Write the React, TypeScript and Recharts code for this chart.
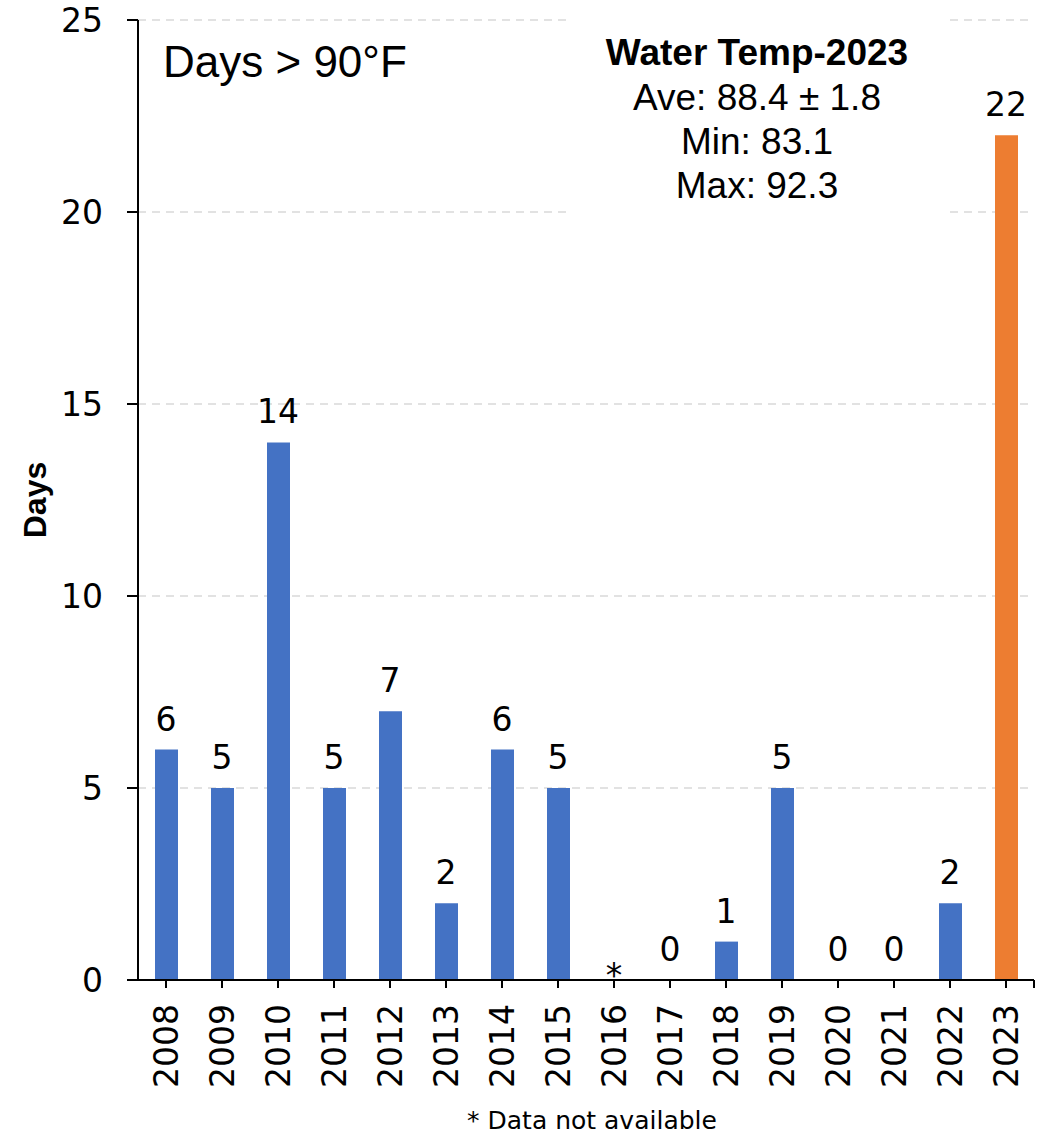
import { Bar, CartesianGrid, Cell, ComposedChart, Customized, Label, LabelList, Line, XAxis, YAxis } from "recharts"

const years = ["2008", "2009", "2010", "2011", "2012", "2013", "2014", "2015", "2016", "2017", "2018", "2019", "2020", "2021", "2022", "2023"]
// null = data not available (2016)
const daysOver90 = [6, 5, 14, 5, 7, 2, 6, 5, null, 0, 1, 5, 0, 0, 2, 22]
const yTicks = [0, 5, 10, 15, 20, 25]
const highlightYear = "2023"

const chartTitle = "Days > 90°F"
const statsTitle = "Water Temp-2023"
const statsLines = ["Ave: 88.4 ± 1.8", "Min: 83.1", "Max: 92.3"]
const footnote = "* Data not available"

const numFont = "DejaVu Sans"
const textFont = "Liberation Sans, Arial, sans-serif"

const data = years.map((year, i) => ({
  year,
  days: daysOver90[i] ?? 0,
  label: daysOver90[i] == null ? "*" : String(daysOver90[i]),
}))

const YearTick = ({ x, y, payload }: any) => {
  const ty = y + 14
  return (
    <text
      x={x}
      y={ty}
      transform={`rotate(-90, ${x}, ${ty})`}
      textAnchor="end"
      dominantBaseline="central"
      fontFamily={numFont}
      fontSize={33}
      fill="#000"
    >
      {payload.value}
    </text>
  )
}

// value labels sit on an invisible line so zero bars get one too
const BarValue = (props: any) => {
  const { x, y, width, value } = props
  const cx = width ? x + width / 2 : x
  const star = value === "*"
  return (
    <text
      x={cx}
      y={star ? y + 7 : y - 19}
      textAnchor="middle"
      fontFamily={numFont}
      fontSize={33}
      fill="#000"
    >
      {value}
    </text>
  )
}

// title, stats box, footnote and the little axis extras
const Overlay = () => (
  <g>
    <rect x={567} y={12} width={383} height={206} fill="#fff" />
    <text x={163} y={77} fontFamily={textFont} fontSize={44} fill="#000">
      {chartTitle}
    </text>
    <text x={757} y={65} textAnchor="middle" fontFamily={textFont} fontSize={37} fontWeight="bold" fill="#000">
      {statsTitle}
    </text>
    {statsLines.map((line, i) => (
      <text key={line} x={757} y={110 + i * 44} textAnchor="middle" fontFamily={textFont} fontSize={37} fill="#000">
        {line}
      </text>
    ))}
    <text x={592} y={1129} textAnchor="middle" fontFamily={numFont} fontSize={25} fill="#000">
      {footnote}
    </text>
    <line x1={127} y1={980} x2={138} y2={980} stroke="#000" strokeWidth={2} />
    <line x1={1034} y1={980} x2={1034} y2={988} stroke="#000" strokeWidth={2} />
  </g>
)

export default function App() {
  return (
    <div style={{ position: "absolute", left: 0, top: 0 }}>
      <ComposedChart width={1054} height={1135} data={data} margin={{ top: 20, right: 20, left: 0, bottom: 0 }}>
        <CartesianGrid vertical={false} stroke="#d9d9d9" strokeWidth={1.5} strokeDasharray="8 6" />
        <Customized component={Overlay} />
        <XAxis
          dataKey="year"
          height={155}
          interval={0}
          tickSize={8}
          axisLine={{ stroke: "#000", strokeWidth: 2 }}
          tickLine={{ stroke: "#000", strokeWidth: 2 }}
          tick={<YearTick />}
        />
        <YAxis
          width={138}
          domain={[0, 25]}
          ticks={yTicks}
          interval={0}
          tickSize={11}
          tickMargin={24}
          axisLine={{ stroke: "#000", strokeWidth: 2 }}
          tickLine={{ stroke: "#000", strokeWidth: 2 }}
          tick={{ fill: "#000", fontFamily: numFont, fontSize: 33 }}
        >
          <Label
            value="Days"
            angle={-90}
            position="center"
            dx={-34}
            style={{ fontFamily: textFont, fontSize: 32, fontWeight: "bold", fill: "#000" }}
          />
        </YAxis>
        <Bar dataKey="days" barSize={23} isAnimationActive={false}>
          {data.map((d) => (
            <Cell key={d.year} fill={d.year === highlightYear ? "#ED7D31" : "#4472C4"} />
          ))}
        </Bar>
        <Line dataKey="days" stroke="none" dot={false} activeDot={false} isAnimationActive={false}>
          <LabelList dataKey="label" content={<BarValue />} />
        </Line>
      </ComposedChart>
    </div>
  )
}
